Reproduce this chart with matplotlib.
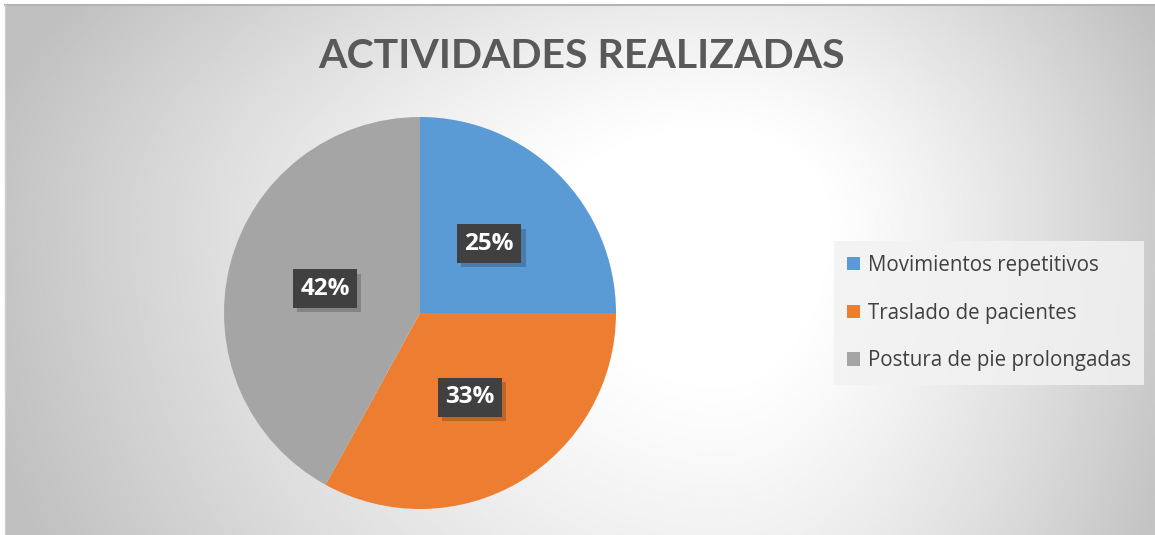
import numpy as np
import matplotlib
matplotlib.use("Agg")
import matplotlib.pyplot as plt
from matplotlib.patches import Patch
import matplotlib.patheffects as pe

title = "ACTIVIDADES REALIZADAS"
categories = ["Movimientos repetitivos", "Traslado de pacientes", "Postura de pie prolongadas"]
percentages = [25, 33, 42]
colors = ["#5B9BD5", "#ED7D31", "#A5A5A5"]

W, H = 1155, 535
fig = plt.figure(figsize=(W / 100, H / 100), dpi=100)

# background: radial grey gradient, white near upper right of centre
bg = fig.add_axes([5 / W, 0, 1 - 5 / W, (H - 5) / H])
xs = np.linspace(5, W, 600)
ys = np.linspace(5, H, 300)
X, Y = np.meshgrid(xs, ys)
cx, cy = 720, 220
ax_n = np.where(X < cx, 760, 500)
ay_n = np.where(Y < cy, 420, 750)
d = np.sqrt(((X - cx) / ax_n) ** 2 + ((Y - cy) / ay_n) ** 2)
frac = np.clip((d - 0.2) / 0.8, 0, 1) ** 1.2
val = 1 - 0.25 * frac
bg.imshow(val, cmap="gray", vmin=0, vmax=1, extent=[5, W, H, 5], aspect="auto", interpolation="bilinear")
bg.set_xlim(5, W)
bg.set_ylim(H, 5)
bg.axis("off")
fig.add_artist(plt.Line2D([5 / W, 1], [(H - 4.5) / H] * 2, color="#b4b4b4", lw=1.5))
fig.add_artist(plt.Line2D([5 / W] * 2, [0, (H - 4.5) / H], color="#d0d0d0", lw=1.0))

fig.text(582 / W, 1 - 57 / H, title, ha="center", va="center", fontsize=29.5, fontweight="bold",
         color="#595959", family=["Lato", "DejaVu Sans"])

# pie
r = 196
pcx, pcy = 420, 313
ax = fig.add_axes([(pcx - r) / W, (H - pcy - r) / H, 2 * r / W, 2 * r / H])
wedges, texts = ax.pie(percentages, colors=colors, startangle=90, counterclock=False,
                       labels=[f"{p}%" for p in percentages], labeldistance=0.5,
                       wedgeprops=dict(linewidth=0))
for t in texts:
    t.set_ha("center")
    t.set_va("center")
    t.set_color("white")
    t.set_fontsize(17.5)
    t.set_fontweight("bold")
    t.set_family(["Open Sans", "DejaVu Sans"])
    t.set_bbox(dict(boxstyle="square,pad=0.3", facecolor="#404040", edgecolor="none",
                    path_effects=[pe.SimplePatchShadow(offset=(3, -3), shadow_rgbFace="#000000", alpha=0.2),
                                  pe.Normal()]))
ax.set_xlim(-1, 1)
ax.set_ylim(-1, 1)
ax.set_aspect("equal")
ax.axis("off")

handles = [Patch(facecolor=c, edgecolor="none") for c in colors]
leg = fig.legend(handles, categories, loc="center left", bbox_to_anchor=(834 / W, 1 - 313 / H),
                 frameon=True, handlelength=0.6, handleheight=0.6,
                 handletextpad=0.4, labelspacing=1.3, borderpad=0.65, borderaxespad=0,
                 prop={"family": ["Open Sans", "DejaVu Sans"], "size": 14.8})
leg.get_frame().set_facecolor("#f2f2f2")
leg.get_frame().set_alpha(0.85)
leg.get_frame().set_edgecolor("none")
leg.get_frame().set_boxstyle("square", pad=0)
for txt in leg.get_texts():
    txt.set_color("#404040")

fig.savefig("out.png", dpi=100)
